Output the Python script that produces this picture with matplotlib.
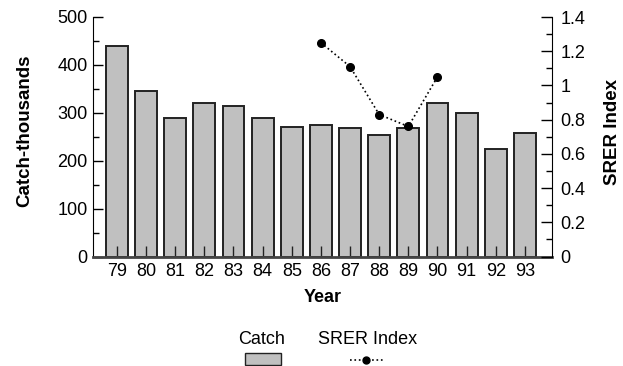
import matplotlib
matplotlib.use("Agg")
import matplotlib.pyplot as plt
from matplotlib.patches import Rectangle
from matplotlib.lines import Line2D
from matplotlib.ticker import MultipleLocator

plt.rcParams['font.family'] = ['Liberation Sans', 'DejaVu Sans']

# data
years = ['79', '80', '81', '82', '83', '84', '85', '86', '87', '88', '89', '90', '91', '92', '93']
catch = [440, 345, 290, 320, 315, 290, 270, 275, 268, 253, 268, 320, 300, 225, 258]
srer_years = ['86', '87', '88', '89', '90']
srer = [1.25, 1.11, 0.83, 0.76, 1.05]

W, H = 623, 366
fig = plt.figure(figsize=(W / 100, H / 100), dpi=100)
ax = fig.add_axes([93 / W, 1 - 256.5 / H, (552 - 93) / W, (256.5 - 17) / H])

x = list(range(len(years)))
ax.bar(x, catch, width=0.75, color='#c0c0c0', edgecolor='#222222', linewidth=1.4)
ax.set_xlim(-0.82, len(years) - 0.07)
ax.set_ylim(0, 500)
ax.set_xticks(x)
ax.set_xticklabels(years)
ax.yaxis.set_major_locator(MultipleLocator(100))
ax.yaxis.set_minor_locator(MultipleLocator(50))
ax.tick_params(axis='x', direction='in', length=8, width=1, color='#222222', labelsize=13, pad=5)
ax.tick_params(axis='y', which='major', direction='in', length=7, width=1, labelsize=13, pad=4)
ax.tick_params(axis='y', which='minor', direction='in', length=4, width=1)
ax.spines['top'].set_visible(False)
ax.spines['right'].set_visible(False)
ax.spines['bottom'].set_linewidth(2)
ax.spines['bottom'].set_color('#444444')
ax.set_ylabel('Catch-thousands', fontsize=13.5, fontweight='bold')
ax.yaxis.set_label_coords(-0.148, 0.524)
ax.yaxis.label.set_va('center')
ax.set_xlabel('Year', fontsize=13, fontweight='bold')
ax.xaxis.set_label_coords(0.5, -0.17)
ax.xaxis.label.set_va('center')

ax2 = ax.twinx()
sx = [years.index(y) for y in srer_years]
ax2.plot(sx, srer, linestyle=':', color='black', linewidth=1.2,
         marker='o', markersize=5.5)
ax2.set_ylim(0, 1.4)
ax2.set_yticks([0, 0.2, 0.4, 0.6, 0.8, 1.0, 1.2, 1.4])
ax2.set_yticklabels(['0', '0.2', '0.4', '0.6', '0.8', '1', '1.2', '1.4'])
ax2.yaxis.set_minor_locator(MultipleLocator(0.1))
ax2.tick_params(axis='y', which='major', direction='in', length=8, width=1, labelsize=13, pad=6)
ax2.tick_params(axis='y', which='minor', direction='in', length=4, width=1)
for s in ['top', 'left', 'bottom']:
    ax2.spines[s].set_visible(False)
ax2.set_ylabel('SRER Index', fontsize=13.5, fontweight='bold')
ax2.yaxis.set_label_coords(1.131, 0.52)
ax2.yaxis.label.set_va('center')

# legend below, labels above the keys
fig.text(262 / W, 1 - 339 / H, 'Catch', ha='center', va='center', fontsize=13)
fig.text(368 / W, 1 - 339 / H, 'SRER Index', ha='center', va='center', fontsize=13)
fig.patches.append(Rectangle((245 / W, 1 - 365 / H), 36 / W, 12 / H,
                             transform=fig.transFigure, facecolor='#c0c0c0',
                             edgecolor='#222222', linewidth=1))
fig.lines.append(Line2D([350 / W, 385 / W], [1 - 360 / H, 1 - 360 / H],
                        transform=fig.transFigure, linestyle=':', color='black',
                        linewidth=1.2))
fig.lines.append(Line2D([366 / W], [1 - 360 / H], transform=fig.transFigure,
                        marker='o', markersize=5, color='black'))

fig.savefig('out.png', dpi=100)
